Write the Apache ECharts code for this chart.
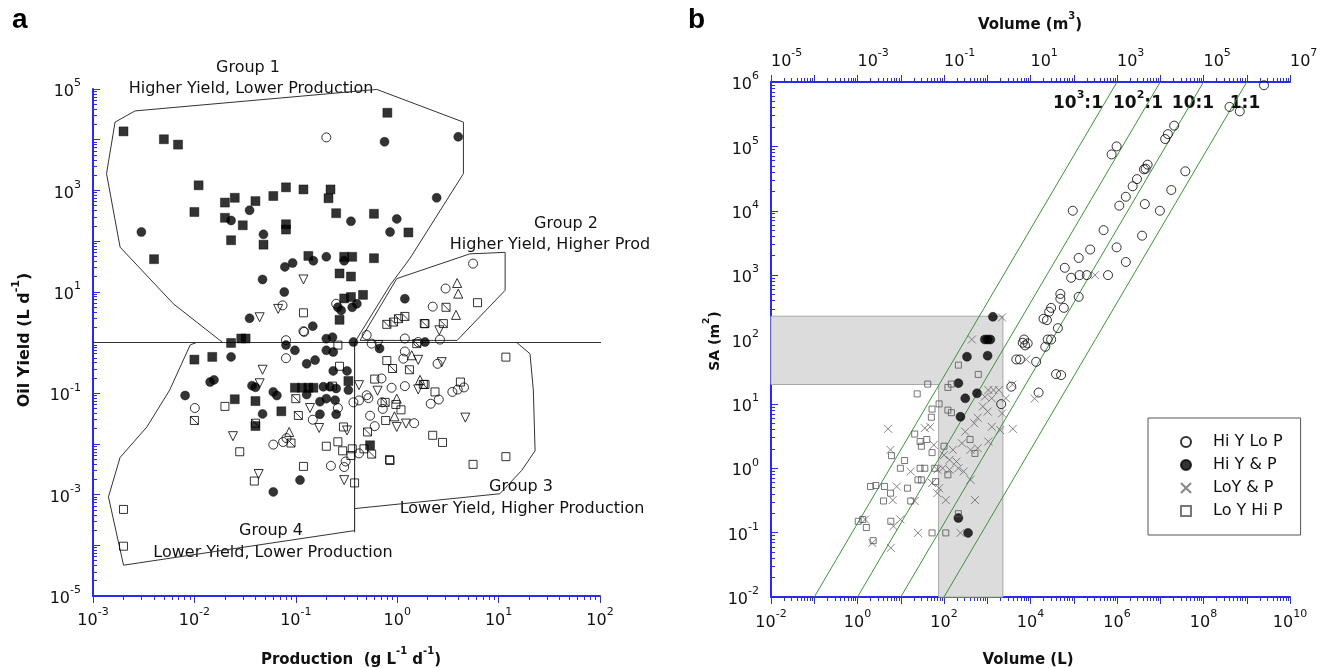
<!DOCTYPE html>
<html><head><meta charset="utf-8">
<script src="https://cdn.jsdelivr.net/npm/echarts@6/dist/echarts.min.js"></script>
<style>html,body{margin:0;padding:0;background:#fff}#c{width:1338px;height:668px}</style>
</head><body><div id="c"></div>
<script>
// ---------------- Panel a data: [Production (g L-1 d-1), Oil Yield (L d-1)] ----------------
const aFilledSquare = [[2.0e-3,1.46e4],[5.0e-3,1.02e4],[6.9e-3,8.0e3],[0.80,3.4e4],[1.1e-2,1260],[2.5e-2,715],[2.0e-2,575],[4.0e-2,615],[6.0e-2,775],[8.0e-2,1150],[0.119,1045],[0.22,1045],[0.21,700],[1.0e-2,375],[2.0e-2,288],[3.0e-2,205],[8.0e-2,215],[8.0e-2,169],[0.25,355],[0.59,346],[1.29,148],[2.3e-2,104],[4.8e-2,85],[4.0e-3,44],[0.133,51],[0.30,49],[0.36,49],[0.59,46],[0.27,23],[0.35,20],[0.46,8.7],[0.35,7.9],[0.30,7.4],[0.27,2.8],[2.3e-2,0.98],[2.9e-2,1.2],[3.2e-2,1.2],[1.0e-2,0.46],[1.5e-2,0.52],[2.5e-2,0.076],[4.0e-2,0.070],[7.2e-2,0.044],[4.0e-2,0.0225],[0.098,0.128],[0.115,0.128],[0.133,0.128],[0.149,0.128],[0.33,0.174],[0.54,9.4e-3]];
const aFilledCircle = [[0.75,9.1e3],[4.0,1.14e4],[3.0e-3,151],[0.035,405],[0.023,255],[0.35,246],[0.99,274],[0.85,151],[2.45,715],[0.048,136],[0.078,31],[0.093,37],[0.149,41],[0.20,49],[0.30,41],[0.047,17.5],[0.077,9.9],[0.035,3.0],[0.147,2.1],[0.26,4.95],[0.28,4.3],[0.36,4.95],[0.40,5.8],[0.37,1.02],[1.19,7.3],[0.20,1.19],[0.23,1.27],[0.080,0.89],[0.023,0.52],[0.098,0.70],[0.128,0.38],[0.155,0.45],[0.20,0.70],[0.234,0.65],[1.88,1.02],[0.234,0.275],[0.32,0.275],[8.1e-3,0.09],[0.0143,0.166],[0.0156,0.183],[0.037,0.141],[0.040,0.131],[0.060,0.106],[0.065,0.09],[0.047,0.039],[0.128,0.094],[0.173,0.068],[0.20,0.078],[0.187,0.134],[0.217,0.134],[0.25,0.124],[0.244,0.073],[0.173,0.0385],[0.25,0.0385],[0.11,1.93e-3],[0.060,1.13e-3],[0.67,0.76],[0.33,0.115]];
const aOpenCircle = [[0.20,1.11e4],[5.6,36],[3.0,11.6],[2.24,5.1],[0.074,5.4],[0.119,1.67],[0.25,5.8],[0.080,1.11],[0.50,1.4],[0.56,0.95],[1.19,1.2],[1.61,1.02],[2.64,1.14],[0.080,0.49],[0.0101,0.051],[0.060,9.7e-3],[0.075,0.0109],[0.081,0.013],[0.147,0.030],[0.26,0.051],[0.222,3.7e-3],[0.30,3.5e-3],[0.31,4.5e-3],[0.37,0.066],[0.42,0.072],[0.50,0.091],[0.60,0.0224],[0.71,0.066],[0.72,0.049],[0.88,0.128],[0.70,0.195],[1.15,0.48],[1.19,0.665],[1.19,0.138],[2.14,0.062],[2.57,0.075],[3.5,0.106],[3.95,0.118],[4.56,0.13],[0.54,0.036],[0.42,6.5e-3],[2.5,0.38],[1.47,0.0256],[0.121,1.62],[0.52,0.08]];
const aOpenSquare = [[0.119,3.85],[6.2,6.1],[0.26,0.89],[0.020,0.055],[0.028,7.0e-3],[0.039,1.85e-3],[0.119,3.6e-3],[0.20,9.0e-3],[0.26,0.011],[0.29,7.3e-3],[0.36,8.0e-3],[0.35,5.9e-3],[0.38,1.7e-3],[0.27,0.34],[0.60,0.19],[0.79,0.44],[1.88,0.149],[2.36,0.106],[2.24,0.0148],[2.8,0.0107],[0.85,4.7e-3],[5.6,3.95e-3],[11.8,0.515],[11.8,5.6e-3],[2.0e-3,5.1e-4],[2.0e-3,9.6e-5],[4.2,0.166],[1.09,0.047],[0.97,0.060],[0.77,0.029],[0.47,8.0e-3],[0.295,0.0216],[0.23,0.138],[0.84,4.9e-3],[1.88,2.35]];
const aDownTriangle = [[0.119,17.5],[0.044,3.15],[0.067,4.6],[2.6,1.74],[0.65,0.89],[0.047,0.29],[0.044,0.157],[0.024,0.0142],[0.043,2.55e-3],[0.30,1.93e-3],[0.32,0.0184],[0.42,0.144],[0.17,0.0206],[0.138,0.051],[0.99,0.0216],[1.22,0.0252],[1.61,0.119],[4.7,0.033],[2.75,0.41],[1.61,0.455],[0.64,0.112]];
const aUpTriangle = [[3.9,14.9],[4.0,9.2],[3.8,3.5],[1.39,0.56],[0.086,0.0172],[0.99,0.078],[1.68,0.183],[0.94,0.035]];
const aCrossSquare = [[0.79,2.28],[0.92,2.53],[1.03,2.95],[1.19,3.27],[1.85,2.36],[3.03,4.95],[2.85,2.36],[1.56,0.95],[0.010,0.029],[0.040,0.0256],[0.10,0.078],[0.0897,0.0104],[0.106,0.0364],[0.51,0.0172],[0.76,0.066],[0.90,0.307],[1.32,0.29],[0.56,6.3e-3],[1.81,0.149]];

// group outlines (data units)
const group1 = [[1.65e-3,2.22e4],[2.6e-3,3.7e4],[0.63,9.8e4],[4.5,2.22e4],[4.5,2140],[1.34,46],[0.85,13.5],[0.38,1],[0.019,1],[6.2e-3,5.8],[1.85e-3,76],[1.36e-3,2140],[1.65e-3,2.22e4]];
const group2 = [[0.43,1.1],[0.99,18.2],[5.2,56],[11.6,60],[11.6,10.7],[3.9,1.1],[0.43,1.1]];
const group3 = [[0.38,1],[15.1,1],[20.4,0.60],[22,0.116],[22.9,7.3e-3],[16.9,3.0e-3],[10.3,1.04e-3],[0.38,5.3e-4]];
const group4 = [[9.1e-3,0.90],[0.0105,1],[0.38,1],[0.38,1.95e-4],[2.0e-3,4.05e-5],[1.42e-3,9.0e-4],[1.85e-3,5.4e-3],[3.4e-3,0.0216],[5.7e-3,0.115],[9.1e-3,0.90]];
const yieldDivider = [[1e-3,1],[115,1]];
const prodDivider = [[0.38,1],[0.38,1.8e-4]];
const groupLabels = ['Group 1','Higher Yield, Lower Production','Group 2','Higher Yield, Higher Prod','Group 3','Lower Yield, Higher Production','Group 4','Lower Yield, Lower Production'];

// ---------------- Panel b data: [Volume (L), SA (m2)] ----------------
const bHiYLoP = [[2.5e9,8.9e5],[4.0e8,4.1e5],[6.9e8,3.5e5],[1.3e7,1.3e5],[1.5e7,1.55e5],[2.1e7,2.1e5],[7.5e5,7.5e4],[9.8e5,1.0e5],[4.6e6,4.5e4],[5.1e6,5.2e4],[4.2e6,4.4e4],[2.9e6,3.1e4],[2.3e6,2.4e4],[1.6e6,1.65e4],[1.13e6,1.2e4],[3.8e7,4.1e4],[1.8e7,2.1e4],[4.4e6,1.27e4],[9.8e6,1.0e4],[9.5e4,1.0e4],[4.9e5,5.0e3],[3.8e6,4.1e3],[9.8e5,2.7e3],[2.4e5,2.5e3],[1.3e5,1.85e3],[1.6e6,1.6e3],[6.2e4,1.3e3],[8.7e4,910],[1.36e5,1000],[2.0e5,1000],[6.2e5,1000],[4.9e4,510],[4.9e4,430],[1.3e5,460],[5.9e4,310],[3.0e4,310],[2.7e4,270],[2.0e4,210],[2.4e4,200],[4.3e4,150],[2.5e4,100],[3.0e4,100],[2.2e4,77],[7.1e3,100],[8.6e3,87],[6.6e3,89],[7.5e3,81],[5.7e3,49],[4.7e3,49],[1.35e4,45],[3.9e4,29],[5.1e4,28],[3.6e3,18.5],[1.54e4,15],[2.1e3,9.9]];
const bHiYP = [[1.35e3,225],[880,100],[1.02e3,100],[1.18e3,100],[340,54],[1.02e3,56],[215,21],[580,14.6],[310,12.2],[240,6.3],[215,0.169],[360,0.099]];
const bLoYP = [[2.2e3,220],[440,100],[8.0e3,49],[3.1e5,1000],[3.8e3,20],[1.25e4,12.1],[1.06e3,16.4],[1.4e3,16.4],[1.85e3,16.4],[880,12.9],[1.27e3,12.2],[2.7e3,12.2],[790,9.1],[1.02e3,7.6],[2.2e3,7.1],[600,6.1],[500,5.0],[1.27e3,4.4],[3.9e3,4.1],[2.0e3,3.9],[310,3.7],[1.06e3,2.6],[600,2.05],[410,1.93],[260,2.44],[5.1,4.1],[5.8,1.93],[58,2.3],[36,4.2],[48,4.4],[160,1.93],[135,1.35],[100,1.6],[195,1.27],[215,1.0],[285,0.89],[135,0.95],[93,1.0],[70,0.95],[17,0.89],[53,0.59],[410,0.66],[77,0.49],[110,0.32],[520,0.32],[70,0.41],[8.1,0.52],[21,0.31],[6.5,0.32],[1.5,0.16],[6.8,0.126],[9.8,0.16],[2.2,0.069],[5.9,0.058],[25,0.099],[240,0.099]];
const bLoYHiP = [[215,40],[620,28.7],[42,20.3],[123,18],[148,20.3],[24,14.3],[77,10],[53,8.3],[123,8.0],[148,7.3],[51,6.2],[21,3.4],[28,2.6],[40,2.8],[30,2.2],[53,1.75],[100,2.2],[400,2.8],[520,1.7],[6.1,1.57],[12.3,1.32],[9.8,1.0],[28,1.0],[36,1.0],[61,1.0],[123,0.79],[25,0.66],[30,0.66],[64,0.62],[2.0,0.52],[2.65,0.54],[4.2,0.52],[14.3,0.49],[5.8,0.41],[4.0,0.31],[17,0.31],[1.04,0.15],[1.32,0.16],[1.6,0.12],[5.9,0.15],[2.3,0.075],[53,0.099],[110,0.099],[215,0.197]];
const bSeriesNames = ['Hi Y Lo P','Hi Y & P','LoY & P','Lo Y Hi P'];
// SA:V ratio lines: start/end volume (L) at SA = 1e-2 and 1e6 m2
const ratioVolStart = [0.1, 1, 10, 100];
const ratioVolEnd = [1e6, 1e7, 1e8, 1e9];
const ratioSA = [1e-2, 1e6];
// shaded region (L-shape), volume / SA
const shadeVol = [0.01, 2300, 2300, 75, 75, 0.01];
const shadeSA = [230, 230, 0.01, 0.01, 20, 20];

// tick label exponents
const aXLabels = [-3,-2,-1,0,1,2];
const aYLabels = [-5,-3,-1,1,3,5];
const bXLabels = [-2,0,2,4,6,8,10];
const bTopLabels = [-5,-3,-1,1,3,5,7];
const bYLabels = [-2,-1,0,1,2,3,4,5,6];

// ---------------- build ----------------
const L = Math.log10;
const lg = arr => arr.map(p => [L(p[0]), L(p[1])]);
const FONT = 'DejaVu Sans';
const AX = '#2b2bee';
const INK = '#111';
const ints = (a,b) => { const r=[]; for(let i=a;i<=b;i++) r.push(i); return r; };
const minors = (a,b) => { const r=[]; for(let n=a;n<b;n++) for(let k=2;k<=9;k++) r.push(n+L(k)); return r; };
const labelRich = { b:{fontSize:16, lineHeight:22, verticalAlign:'bottom', fontFamily:FONT, color:INK}, s:{fontSize:11, lineHeight:12, verticalAlign:'top', fontFamily:FONT, color:INK} };
const fmt = v => '{b|10}{s|' + Math.round(v) + '}';

function majorAxis(gridIndex, position, min, max, labels, inside, margin, align) {
  const lab = {show:true, customValues: labels, formatter: fmt, rich: labelRich, margin, hideOverlap:false};
  if (align) lab.align = align;
  return { type:'value', gridIndex, position, min, max, interval:1,
    axisLine:{show:true, onZero:false, lineStyle:{color:AX, width:2}},
    axisTick:{show:true, inside, length:7, customValues: ints(min,max), lineStyle:{color:AX, width:1}},
    axisLabel: lab, splitLine:{show:false}, minorTick:{show:false} };
}
function minorAxis(gridIndex, position, min, max, inside) {
  return { type:'value', gridIndex, position, min, max, interval:1,
    axisLine:{show:false, onZero:false},
    axisTick:{show:true, inside, length:4, customValues: minors(min,max), lineStyle:{color:AX, width:1}},
    axisLabel:{show:false}, splitLine:{show:false} };
}

const openStyle = {color:'rgba(255,255,255,0)', borderColor:'#000', borderWidth:1};
const filledStyle = {color:'#000', borderColor:'#000', borderWidth:0.5};
const DOWN_TRI = 'path://M0,0L10,0L5,9Z';
const UP_TRI = 'path://M5,0L10,9L0,9Z';
const CROSS_SQ = 'path://M0,0L10,0L10,10L0,10ZM0,0L10,10';
const XMARK = 'path://M0,0L10,10M10,0L0,10';

function scatterA(name, data, symbol, size, style) {
  return {type:'scatter', name, xAxisIndex:0, yAxisIndex:0, data: lg(data), symbol, symbolSize:size, itemStyle:style, z:3, silent:true};
}
function scatterB(name, data, symbol, size, style) {
  return {type:'scatter', name, xAxisIndex:2, yAxisIndex:2, data: lg(data), symbol, symbolSize:size, itemStyle:style, z:3, silent:true};
}
function outline(name, data, xi, extra) {
  return Object.assign({type:'line', name, xAxisIndex:xi, yAxisIndex:xi, data: lg(data), symbol:'none', lineStyle:{color:'#333', width:1}, z:1, silent:true}, extra||{});
}

const series = [
  outline('g1', group1, 0), outline('g2', group2, 0), outline('g3', group3, 0), outline('g4', group4, 0),
  outline('hdiv', yieldDivider, 0, {clip:false}), outline('vdiv', prodDivider, 0),
  scatterA('a-open-square', aOpenSquare, 'rect', 8, openStyle),
  scatterA('a-cross-square', aCrossSquare, CROSS_SQ, 8, openStyle),
  scatterA('a-down-tri', aDownTriangle, DOWN_TRI, 9, openStyle),
  scatterA('a-up-tri', aUpTriangle, UP_TRI, 9, openStyle),
  scatterA('a-open-circle', aOpenCircle, 'circle', 9, openStyle),
  scatterA('a-filled-square', aFilledSquare, 'rect', 9, filledStyle),
  scatterA('a-filled-circle', aFilledCircle, 'circle', 9, filledStyle),
  { type:'custom', name:'shade', xAxisIndex:2, yAxisIndex:2, z:1, silent:true, data:[[0,0]],
    renderItem: (params, api) => ({ type:'polygon',
      shape:{points: shadeVol.map((v,i) => api.coord([L(v), L(shadeSA[i])]))},
      style:{fill:'#dcdcdc', stroke:'#a8a8a8', lineWidth:1} }) },
];
ratioVolStart.forEach((v,i) => {
  series.push({type:'line', name:'ratio'+i, xAxisIndex:2, yAxisIndex:2, symbol:'none', silent:true, z:2,
    data:[[L(v), L(ratioSA[0])],[L(ratioVolEnd[i]), L(ratioSA[1])]], lineStyle:{color:'#3f8f3f', width:1}});
});
series.push(
  scatterB(bSeriesNames[0], bHiYLoP, 'circle', 9, openStyle),
  scatterB(bSeriesNames[1], bHiYP, 'circle', 9, filledStyle),
  scatterB(bSeriesNames[2], bLoYP, XMARK, 8, {color:'rgba(255,255,255,0)', borderColor:'#666', borderWidth:1}),
  scatterB(bSeriesNames[3], bLoYHiP, 'rect', 6, {color:'rgba(255,255,255,0)', borderColor:'#555', borderWidth:1})
);

// texts
function supText(x, y, str, size, weight, rot) {
  const sub = Math.round(size*0.66);
  return { type:'text', x, y, rotation: rot||0, silent:true,
    style:{ text: str, align:'center', verticalAlign:'middle', fill:INK,
      rich:{ b:{fontSize:size, fontWeight:weight, fontFamily:FONT, lineHeight:size+6, verticalAlign:'bottom', fill:INK},
             s:{fontSize:sub, fontWeight:weight, fontFamily:FONT, lineHeight:sub+1, verticalAlign:'top', fill:INK} } } };
}
function plainText(x, y, str, size, weight) {
  return { type:'text', x, y, silent:true, style:{text:str, align:'center', verticalAlign:'middle', fill:INK, fontSize:size, fontWeight:weight, fontFamily:FONT}};
}
const graphics = [
  {type:'text', x:12, y:6, silent:true, style:{text:'a', fontSize:28, fontWeight:'bold', fontFamily:'Liberation Sans', fill:'#000'}},
  {type:'text', x:688, y:6, silent:true, style:{text:'b', fontSize:28, fontWeight:'bold', fontFamily:'Liberation Sans', fill:'#000'}},
  supText(22, 340, '{b|Oil Yield (L d}{s|-1}{b|)}', 16, 'bold', Math.PI/2),
  supText(351, 657, '{b|Production  (g L}{s|-1}{b| d}{s|-1}{b|)}', 15, 'bold'),
  supText(712, 341, '{b|SA (m}{s|2}{b|)}', 14, 'bold', Math.PI/2),
  supText(1028, 657, '{b|Volume (L)}', 15, 'bold'),
  supText(1030, 22, '{b|Volume (m}{s|3}{b|)}', 15, 'bold'),
  plainText(248, 68, groupLabels[0], 16, 'normal'),
  plainText(251, 89, groupLabels[1], 16, 'normal'),
  plainText(566, 224, groupLabels[2], 16, 'normal'),
  plainText(550, 245, groupLabels[3], 16, 'normal'),
  plainText(521, 487, groupLabels[4], 16, 'normal'),
  plainText(522, 509, groupLabels[5], 16, 'normal'),
  plainText(271, 531, groupLabels[6], 16, 'normal'),
  plainText(273, 553, groupLabels[7], 16, 'normal'),
  supText(1078, 101, '{b|10}{s|3}{b|:1}', 17, 'bold'),
  supText(1138, 101, '{b|10}{s|2}{b|:1}', 17, 'bold'),
  supText(1193, 101, '{b|10:1}', 17, 'bold'),
  supText(1245, 101, '{b|1:1}', 17, 'bold'),
];

const option = {
  backgroundColor:'#fff', animation:false,
  grid:[{left:93, top:89, width:507, height:507}, {left:771, top:82, width:519, height:515}],
  xAxis:[
    majorAxis(0,'bottom',-3,2,aXLabels,false,11), minorAxis(0,'bottom',-3,2,false),
    majorAxis(1,'bottom',-2,10,bXLabels,false,12), minorAxis(1,'bottom',-2,10,false),
    majorAxis(1,'top',-5,7,bTopLabels,false,12,'left'), minorAxis(1,'top',-5,7,false)
  ],
  yAxis:[
    majorAxis(0,'left',-5,5,aYLabels,true,12), minorAxis(0,'left',-5,5,true),
    majorAxis(1,'left',-2,6,bYLabels,true,12), minorAxis(1,'left',-2,6,true)
  ],
  legend:{ data: bSeriesNames, orient:'vertical', left:1148, top:418, itemWidth:10, itemHeight:10, itemGap:7,
    padding:[16,18,16,32], borderColor:'#555', borderWidth:1, backgroundColor:'#fff', selectedMode:false,
    textStyle:{fontFamily:FONT, fontSize:16, color:INK, padding:[0,0,0,17]} },
  series, graphic: graphics
};
const chart = echarts.init(document.getElementById('c'), null, {renderer:'canvas'});
chart.setOption(option);
</script></body></html>
